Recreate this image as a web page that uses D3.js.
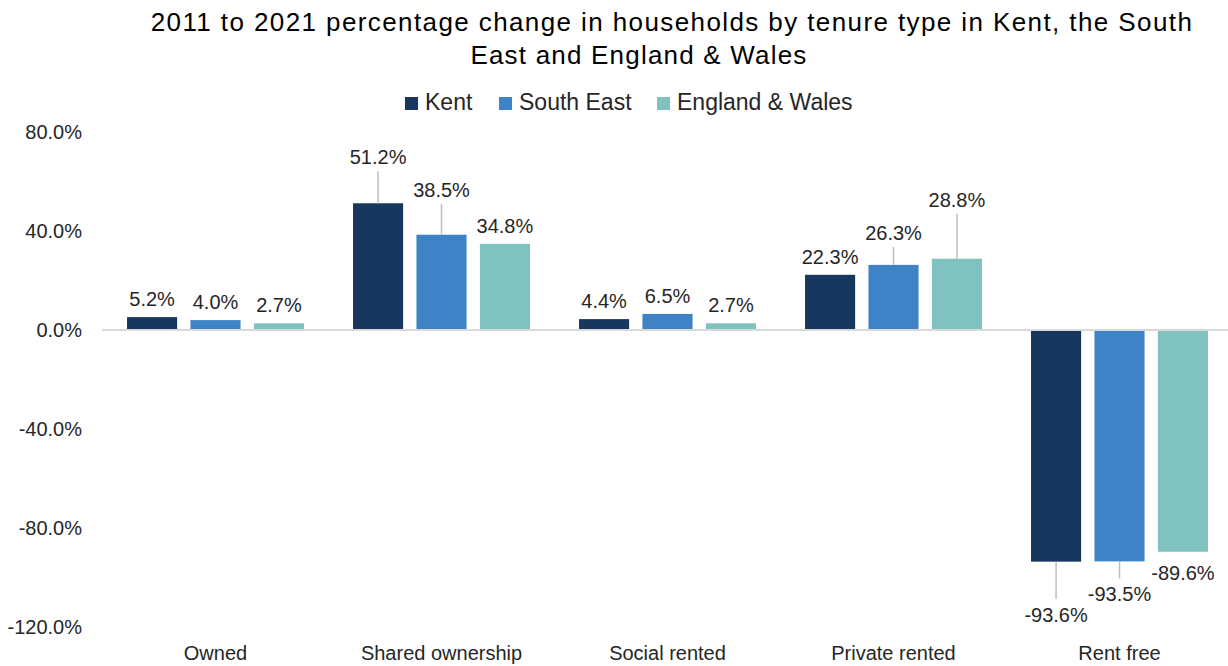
<!DOCTYPE html>
<html>
<head>
<meta charset="utf-8">
<script src="https://cdn.jsdelivr.net/npm/d3@7"></script>
<style>
  body { margin: 0; background: #fff; }
  svg text { font-family: "Liberation Sans", Arial, sans-serif; fill: #262626; }
</style>
</head>
<body>
<svg id="chart"></svg>
<script>
var w = 1228;
var h = 666;

var categories = ["Owned", "Shared ownership", "Social rented", "Private rented", "Rent free"];
var series = ["Kent", "South East", "England & Wales"];
var kent = [5.2, 51.2, 4.4, 22.3, -93.6];
var southEast = [4.0, 38.5, 6.5, 26.3, -93.5];
var englandWales = [2.7, 34.8, 2.7, 28.8, -89.6];
var yTicks = [-120, -80, -40, 0, 40, 80];
var colors = ["#17375e", "#3d83c6", "#80c2c0"];

// extra pixel shift of labels that were dragged away from the bars (Excel style)
var labelShift = [
  [0, 28, 0, 0, 32],
  [0, 27, 0, 14, 12],
  [0, 0, 0, 41, 0]
];

var values = [kent, southEast, englandWales];
var rows = [];
series.forEach(function(s, si) {
  categories.forEach(function(c, ci) {
    rows.push({ series: s, si: si, cat: c, value: values[si][ci], shift: labelShift[si][ci] });
  });
});

var fmt = d3.formatLocale({ decimal: ".", thousands: ",", grouping: [3], currency: ["", ""], minus: "-" })
    .format(".1f");
var pct = d => fmt(d) + "%";

var svg = d3.select("#chart").attr("width", w).attr("height", h);

var x = d3.scaleBand().domain(categories).range([102.5, 1232.5])
    .paddingInner(0.217).paddingOuter(0.1085);
var xs = d3.scaleBand().domain(series).range([0, x.bandwidth()])
    .paddingInner(0.21).paddingOuter(0);
var y = d3.scaleLinear().domain([-120, 80]).range([627, 132]);

// title
svg.append("text").attr("x", 672).attr("y", 31).attr("text-anchor", "middle")
    .style("font-size", "26px").style("letter-spacing", "1.4px").style("fill", "#000")
    .text("2011 to 2021 percentage change in households by tenure type in Kent, the South");
svg.append("text").attr("x", 639).attr("y", 64).attr("text-anchor", "middle")
    .style("font-size", "26px").style("letter-spacing", "1.2px").style("fill", "#000")
    .text("East and England & Wales");

// legend
var legendX = [405, 499, 657];
var legend = svg.append("g").selectAll("g").data(series).enter().append("g")
    .attr("transform", (d, i) => "translate(" + legendX[i] + ",0)");
legend.append("rect").attr("x", 0).attr("y", 97).attr("width", 13).attr("height", 13)
    .attr("fill", (d, i) => colors[i]);
legend.append("text").attr("x", 20).attr("y", 110)
    .style("font-size", "23px").text(d => d);

// y axis
var yAxis = svg.append("g").attr("transform", "translate(82,0)")
    .call(d3.axisLeft(y).tickValues(yTicks).tickSize(0).tickPadding(0).tickFormat(pct));
yAxis.select(".domain").remove();
yAxis.selectAll("text").style("font-size", "20px")
    .style("font-family", "Liberation Sans, Arial, sans-serif").attr("fill", "#262626");

// bars
svg.append("g").selectAll("rect").data(rows).enter().append("rect")
    .attr("x", d => x(d.cat) + xs(d.series))
    .attr("width", xs.bandwidth())
    .attr("y", d => y(Math.max(0, d.value)))
    .attr("height", d => Math.abs(y(d.value) - y(0)))
    .attr("fill", d => colors[d.si]);

// zero line
svg.append("line").attr("x1", 102).attr("x2", w)
    .attr("y1", y(0)).attr("y2", y(0))
    .attr("stroke", "#d9d9d9").attr("stroke-width", 2);

// leader lines
function labelBase(d) {
  return d.value >= 0 ? y(d.value) - 11 - d.shift : y(d.value) + 28 + d.shift;
}
svg.append("g").selectAll("line").data(rows.filter(d => d.shift > 0)).enter().append("line")
    .attr("x1", d => x(d.cat) + xs(d.series) + xs.bandwidth() / 2)
    .attr("x2", d => x(d.cat) + xs(d.series) + xs.bandwidth() / 2)
    .attr("y1", d => y(d.value))
    .attr("y2", d => d.value >= 0 ? labelBase(d) + 7 : labelBase(d) - 23)
    .attr("stroke", "#bfbfbf").attr("stroke-width", 1.5);

// data labels
svg.append("g").selectAll("text").data(rows).enter().append("text")
    .attr("x", d => x(d.cat) + xs(d.series) + xs.bandwidth() / 2)
    .attr("y", d => labelBase(d))
    .attr("text-anchor", "middle")
    .style("font-size", "20px")
    .text(d => pct(d.value));

// category labels
svg.append("g").selectAll("text").data(categories).enter().append("text")
    .attr("x", d => x(d) + x.bandwidth() / 2)
    .attr("y", 660)
    .attr("text-anchor", "middle")
    .style("font-size", "20px")
    .text(d => d);
</script>
</body>
</html>
